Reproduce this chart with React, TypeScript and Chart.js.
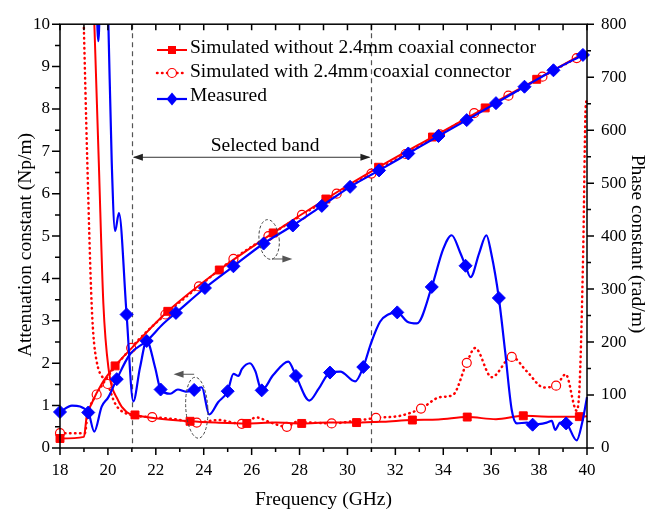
import React, { useEffect, useRef } from "react";
import { Chart, registerables } from "chart.js";

Chart.register(...registerables);

const SERIF = '"Liberation Serif", "Times New Roman", serif';
const RED = "#ff0000";
const BLUE = "#0000ff";

// ---------- Attenuation constant (Np/m), left axis ----------
const simNoAttX = [19.4, 19.62, 19.81, 20.02, 20.43, 20.78, 21.13, 22.0, 23.43, 24.5, 25.8, 27.0, 28.09, 29.2, 30.38, 31.5, 32.71, 33.8, 35.0, 36.2, 37.34, 38.5, 39.68, 40.0];
const simNoAttY = [10.6, 6.74, 3.41, 1.9, 1.12, 0.85, 0.78, 0.7, 0.63, 0.6, 0.58, 0.6, 0.58, 0.6, 0.6, 0.62, 0.66, 0.67, 0.73, 0.68, 0.76, 0.74, 0.74, 0.75];
const simNoAttMarks = [21.13, 23.43, 25.8, 28.09, 30.38, 32.71, 35.0, 37.34, 39.68];

const simWithAttX = [18.97, 19.14, 19.32, 19.46, 19.99, 20.3, 20.78, 21.85, 22.8, 23.71, 24.6, 25.59, 26.2, 26.8, 27.47, 27.9, 28.5, 29.34, 30.2, 31.19, 32.2, 33.07, 33.87, 34.4, 34.98, 35.33, 36.02, 36.86, 37.5, 38.2, 38.71, 39.11, 39.57, 39.7, 39.84, 39.95, 40.0];
const simWithAttY = [10.5, 6.74, 3.41, 2.29, 1.51, 1.05, 0.81, 0.73, 0.68, 0.6, 0.66, 0.57, 0.72, 0.6, 0.5, 0.62, 0.6, 0.58, 0.63, 0.71, 0.76, 0.93, 1.2, 1.25, 2.01, 2.36, 1.67, 2.15, 1.8, 1.43, 1.47, 1.74, 0.88, 1.6, 4.6, 8.1, 8.2];
const simWithAttMarks = [19.99, 21.85, 23.71, 25.59, 27.47, 29.34, 31.19, 33.07, 34.98, 36.86, 38.71];

const measAttX = [19.5, 19.6, 19.7, 19.95, 20.02, 20.16, 20.3, 20.46, 20.78, 21.06, 21.34, 21.62, 21.97, 22.2, 22.6, 22.92, 23.25, 23.6, 23.92, 24.23, 24.6, 25.0, 25.24, 25.45, 25.59, 25.93, 26.15, 26.42, 26.9, 27.53, 27.85, 28.41, 28.8, 29.27, 29.7, 30.32, 30.66, 31.0, 31.36, 31.7, 32.08, 32.5, 32.9, 33.52, 34.0, 34.35, 34.7, 34.93, 35.14, 35.5, 35.8, 36.0, 36.32, 36.58, 36.86, 37.07, 37.49, 37.73, 38.32, 38.53, 38.67, 38.88, 39.13, 39.57, 39.8, 40.0];
const measAttY = [11.0, 9.6, 11.0, 11.5, 10.0, 6.74, 5.12, 5.54, 3.15, 1.1, 1.9, 2.53, 1.9, 1.38, 1.28, 1.38, 1.33, 1.37, 1.43, 0.79, 1.08, 1.34, 1.75, 1.7, 1.86, 2.0, 1.82, 1.36, 1.72, 2.04, 1.7, 1.12, 1.4, 1.78, 1.8, 1.57, 1.91, 2.5, 2.98, 3.15, 3.2, 2.98, 2.94, 3.8, 4.7, 5.02, 4.62, 4.3, 4.03, 4.6, 5.02, 4.6, 3.54, 2.29, 0.89, 0.58, 0.6, 0.55, 0.6, 0.64, 0.43, 0.6, 0.58, 0.18, 0.6, 1.2];
const measAttMarks = [20.78, 22.2, 23.6, 25.0, 26.42, 27.85, 29.27, 30.66, 32.08, 33.52, 34.93, 36.32, 37.73, 39.13];

// ---------- Phase constant (rad/m), right axis ----------
const simNoPhX = [18.0, 19.0, 19.11, 19.32, 19.74, 20.3, 21.0, 22.5, 24.65, 26.9, 29.1, 31.3, 33.55, 35.75, 37.9, 40.0];
const simNoPhY = [18, 21, 58, 84, 121, 155, 189, 258, 336, 406, 470, 530, 587, 642, 696, 748];
const simNoPhMarks = [18.0, 20.3, 22.5, 24.65, 26.9, 29.1, 31.3, 33.55, 35.75, 37.9];

const simWithPhX = [18.0, 19.04, 19.15, 19.53, 20.97, 22.4, 23.8, 25.24, 26.7, 28.1, 29.55, 31.0, 32.43, 33.86, 35.29, 36.72, 38.14, 39.57, 40.0];
const simWithPhY = [28, 28, 62, 101, 189, 252, 305, 357, 400, 440, 480, 518, 555, 592, 632, 665, 701, 736, 746];
const simWithPhMarks = [18.0, 19.53, 20.97, 22.4, 23.8, 25.24, 26.7, 28.1, 29.55, 31.0, 32.43, 33.86, 35.29, 36.72, 38.14, 39.57];

const measPhX = [18.0, 18.5, 19.18, 19.43, 19.74, 20.02, 20.37, 20.92, 21.62, 22.32, 22.84, 24.05, 25.24, 26.5, 27.72, 28.93, 30.11, 31.32, 32.54, 33.8, 34.98, 36.2, 37.39, 38.6, 39.83, 40.0];
const measPhY = [68, 80, 67, 31, 78, 96, 130, 177, 202, 235, 255, 302, 343, 386, 420, 457, 493, 524, 556, 589, 619, 651, 682, 713, 742, 746];
const measPhMarks = [18.0, 19.18, 20.37, 21.62, 22.84, 24.05, 25.24, 26.5, 27.72, 28.93, 30.11, 31.32, 32.54, 33.8, 34.98, 36.2, 37.39, 38.6, 39.83];

// ---------- Annotations (data coordinates) ----------
const bandEdges = [21, 31];
const bandArrowY = 6.86;
const bandLabel = "Selected band";
const legendLabels = [
  "Simulated without 2.4mm coaxial connector",
  "Simulated with 2.4mm coaxial connector",
  "Measured",
];

const pts = (xs: number[], ys: number[]) => xs.map((x, i) => ({ x, y: ys[i] }));
const radii = (xs: number[], marks: number[], r: number) => xs.map((x) => (marks.includes(x) ? r : 0));

function drawMarker(ctx: CanvasRenderingContext2D, kind: string, x: number, y: number) {
  ctx.save();
  if (kind === "square") {
    ctx.fillStyle = RED;
    ctx.fillRect(x - 4, y - 4, 8, 8);
  } else if (kind === "circle") {
    ctx.fillStyle = "#fff";
    ctx.strokeStyle = RED;
    ctx.lineWidth = 1.2;
    ctx.setLineDash([]);
    ctx.beginPath();
    ctx.arc(x, y, 4.5, 0, Math.PI * 2);
    ctx.fill();
    ctx.stroke();
  } else {
    ctx.fillStyle = BLUE;
    ctx.beginPath();
    ctx.moveTo(x, y - 6.5);
    ctx.lineTo(x + 5.5, y);
    ctx.lineTo(x, y + 6.5);
    ctx.lineTo(x - 5.5, y);
    ctx.closePath();
    ctx.fill();
  }
  ctx.restore();
}

function arrowHead(ctx: CanvasRenderingContext2D, tx: number, ty: number, dir: number, len = 10, half = 3.5) {
  ctx.beginPath();
  ctx.moveTo(tx, ty);
  ctx.lineTo(tx - dir * len, ty - half);
  ctx.lineTo(tx - dir * len, ty + half);
  ctx.closePath();
  ctx.fill();
}

const decorPlugin = {
  id: "decor",
  beforeDatasetsDraw(chart: any) {
    const { ctx, chartArea } = chart;
    const xs = chart.scales.x;
    ctx.save();
    ctx.strokeStyle = "#555";
    ctx.lineWidth = 1.2;
    ctx.setLineDash([5, 4]);
    bandEdges.forEach((b) => {
      const px = Math.round(xs.getPixelForValue(b)) + 0.5;
      ctx.beginPath();
      ctx.moveTo(px, chartArea.top);
      ctx.lineTo(px, chartArea.bottom);
      ctx.stroke();
    });
    ctx.restore();
  },
  afterDatasetsDraw(chart: any) {
    const { ctx, chartArea } = chart;
    const { left, right, top, bottom } = chartArea;
    const xs = chart.scales.x;
    const ys = chart.scales.y;
    const y2 = chart.scales.y2;
    ctx.save();
    ctx.strokeStyle = "#000";
    ctx.lineWidth = 1.5;
    ctx.setLineDash([]);
    ctx.strokeRect(left, top, right - left, bottom - top);
    ctx.beginPath();
    for (let v = 18; v <= 40; v += 1) {
      const px = xs.getPixelForValue(v);
      const major = v % 2 === 0;
      ctx.moveTo(px, bottom);
      ctx.lineTo(px, bottom + (major ? 7 : 4));
      ctx.moveTo(px, top);
      ctx.lineTo(px, top + 6);
    }
    for (let v = 0; v <= 10; v += 0.5) {
      const py = ys.getPixelForValue(v);
      const major = Number.isInteger(v);
      ctx.moveTo(left, py);
      ctx.lineTo(left - (major ? 8 : 5), py);
    }
    for (let v = 0; v <= 800; v += 50) {
      const py = y2.getPixelForValue(v);
      const major = v % 100 === 0;
      ctx.moveTo(right, py);
      ctx.lineTo(right + (major ? 7 : 4), py);
    }
    ctx.stroke();
    ctx.restore();
  },
  afterDraw(chart: any) {
    const { ctx, chartArea } = chart;
    const xs = chart.scales.x;
    const ys = chart.scales.y;
    ctx.save();

    // Selected band arrow
    const ax1 = xs.getPixelForValue(bandEdges[0]);
    const ax2 = xs.getPixelForValue(bandEdges[1]);
    const ay = ys.getPixelForValue(bandArrowY);
    ctx.strokeStyle = "#333";
    ctx.fillStyle = "#222";
    ctx.lineWidth = 1;
    ctx.beginPath();
    ctx.moveTo(ax1 + 2, ay);
    ctx.lineTo(ax2 - 2, ay);
    ctx.stroke();
    arrowHead(ctx, ax1 + 1, ay, -1);
    arrowHead(ctx, ax2 - 1, ay, 1);
    ctx.fillStyle = "#000";
    ctx.font = `19.5px ${SERIF}`;
    ctx.textAlign = "center";
    ctx.textBaseline = "middle";
    ctx.fillText(bandLabel, xs.getPixelForValue(26.56), ys.getPixelForValue(7.13));

    // Dashed ellipses with arrows
    const ellipses = [
      { cx: 23.71, cy: 0.95, rx: 0.46, ry: 0.72, rot: -0.06, ax0: 23.6, ax1: 22.74, ayv: 1.74 },
      { cx: 26.73, cy: 4.92, rx: 0.42, ry: 0.47, rot: -0.1, ax0: 26.85, ax1: 27.7, ayv: 4.46 },
    ];
    ellipses.forEach((e) => {
      const cx = xs.getPixelForValue(e.cx);
      const cy = ys.getPixelForValue(e.cy);
      const rx = Math.abs(xs.getPixelForValue(e.cx + e.rx) - cx);
      const ry = Math.abs(ys.getPixelForValue(e.cy + e.ry) - cy);
      ctx.strokeStyle = "#444";
      ctx.lineWidth = 1;
      ctx.setLineDash([3, 2]);
      ctx.beginPath();
      ctx.ellipse(cx, cy, rx, ry, e.rot, 0, Math.PI * 2);
      ctx.stroke();
      ctx.setLineDash([]);
      const p0 = xs.getPixelForValue(e.ax0);
      const p1 = xs.getPixelForValue(e.ax1);
      const py = ys.getPixelForValue(e.ayv);
      const dir = p1 > p0 ? 1 : -1;
      ctx.strokeStyle = "#555";
      ctx.beginPath();
      ctx.moveTo(p0, py);
      ctx.lineTo(p1 - dir * 4, py);
      ctx.stroke();
      ctx.fillStyle = "#555";
      arrowHead(ctx, p1, py, dir, 10, 3.5);
    });

    // Legend
    const rows = [
      { ty: 48.3, ly: 50, color: RED, dash: [] as number[], marker: "square", w: 2 },
      { ty: 71.7, ly: 73, color: RED, dash: [0.5, 4.5], marker: "circle", w: 2.5 },
      { ty: 96.3, ly: 99, color: BLUE, dash: [] as number[], marker: "diamond", w: 2.2 },
    ];
    rows.forEach((r, i) => {
      ctx.strokeStyle = r.color;
      ctx.lineWidth = r.w;
      ctx.lineCap = r.dash.length ? "round" : "butt";
      ctx.setLineDash(r.dash);
      ctx.beginPath();
      ctx.moveTo(157, r.ly);
      ctx.lineTo(187, r.ly);
      ctx.stroke();
      ctx.setLineDash([]);
      drawMarker(ctx, r.marker, 172, r.ly);
      ctx.fillStyle = "#000";
      ctx.font = `19.5px ${SERIF}`;
      ctx.textAlign = "left";
      ctx.textBaseline = "middle";
      ctx.fillText(legendLabels[i], 190, r.ty);
    });

    // Axis titles
    ctx.fillStyle = "#000";
    ctx.font = `19.5px ${SERIF}`;
    ctx.textAlign = "center";
    ctx.textBaseline = "middle";
    ctx.fillText("Frequency (GHz)", (chartArea.left + chartArea.right) / 2, 500);
    ctx.save();
    ctx.translate(26, 245);
    ctx.rotate(-Math.PI / 2);
    ctx.fillText("Attenuation constant (Np/m)", 0, 0);
    ctx.restore();
    ctx.save();
    ctx.translate(637.5, 244);
    ctx.rotate(Math.PI / 2);
    ctx.fillText("Phase constant (rad/m)", 0, 0);
    ctx.restore();

    ctx.restore();
  },
};

export default function App() {
  const ref = useRef<HTMLCanvasElement>(null);

  useEffect(() => {
    if (!ref.current) return;
    const clip = { left: 8, right: 8, top: 0, bottom: 8 };
    const solid = (xs: number[], ys: number[], marks: number[], axis: string, color: string, style: string, r: number, w: number) => ({
      data: pts(xs, ys),
      yAxisID: axis,
      borderColor: color,
      borderWidth: w,
      cubicInterpolationMode: "monotone" as const,
      pointStyle: style,
      pointRadius: radii(xs, marks, r),
      pointHoverRadius: 0,
      pointBackgroundColor: color,
      pointBorderColor: color,
      pointBorderWidth: 1,
      clip,
    });
    const dotted = (xs: number[], ys: number[], marks: number[], axis: string) => ({
      data: pts(xs, ys),
      yAxisID: axis,
      borderColor: RED,
      borderWidth: 2.5,
      borderDash: [0.5, 4.5],
      borderCapStyle: "round" as const,
      cubicInterpolationMode: "monotone" as const,
      pointStyle: "circle",
      pointRadius: radii(xs, marks, 4.5),
      pointHoverRadius: 0,
      pointBackgroundColor: "#ffffff",
      pointBorderColor: RED,
      pointBorderWidth: 1.2,
      clip,
    });

    const tickFont = { family: SERIF, size: 17 };
    const chart = new Chart(ref.current, {
      type: "line",
      data: {
        datasets: [
          solid(measPhX, measPhY, measPhMarks, "y2", BLUE, "rectRot", 6.5, 2.2),
          solid(measAttX, measAttY, measAttMarks, "y", BLUE, "rectRot", 6.5, 2.2),
          solid(simNoPhX, simNoPhY, simNoPhMarks, "y2", RED, "rect", 5.6, 2),
          solid(simNoAttX, simNoAttY, simNoAttMarks, "y", RED, "rect", 5.6, 2),
          dotted(simWithPhX, simWithPhY, simWithPhMarks, "y2"),
          dotted(simWithAttX, simWithAttY, simWithAttMarks, "y"),
        ] as any,
      },
      options: {
        animation: false,
        responsive: false,
        maintainAspectRatio: false,
        events: [],
        layout: { padding: { top: 18, left: 0, right: 0, bottom: 0 } },
        plugins: { legend: { display: false }, tooltip: { enabled: false } },
        scales: {
          x: {
            type: "linear",
            min: 18,
            max: 40,
            grid: { display: false, drawTicks: false },
            border: { display: false },
            ticks: { stepSize: 2, autoSkip: false, maxRotation: 0, padding: 12, color: "#000", font: tickFont },
            afterFit: (s: any) => { s.height = 64; },
          },
          y: {
            type: "linear",
            position: "left",
            min: 0,
            max: 10,
            grid: { display: false, drawTicks: false },
            border: { display: false },
            ticks: { stepSize: 1, autoSkip: false, padding: 10, color: "#000", font: tickFont },
            afterFit: (s: any) => { s.width = 60; },
          },
          y2: {
            type: "linear",
            position: "right",
            min: 0,
            max: 800,
            grid: { display: false, drawTicks: false },
            border: { display: false },
            ticks: { stepSize: 100, autoSkip: false, padding: 14, color: "#000", font: tickFont },
            afterFit: (s: any) => { s.width = 73; },
          },
        },
      } as any,
      plugins: [decorPlugin],
    });
    return () => chart.destroy();
  }, []);

  return (
    <div style={{ position: "fixed", left: 0, top: 0, width: 660, height: 512, background: "#fff" }}>
      <canvas ref={ref} width={660} height={512} style={{ width: 660, height: 512, display: "block" }} />
    </div>
  );
}
